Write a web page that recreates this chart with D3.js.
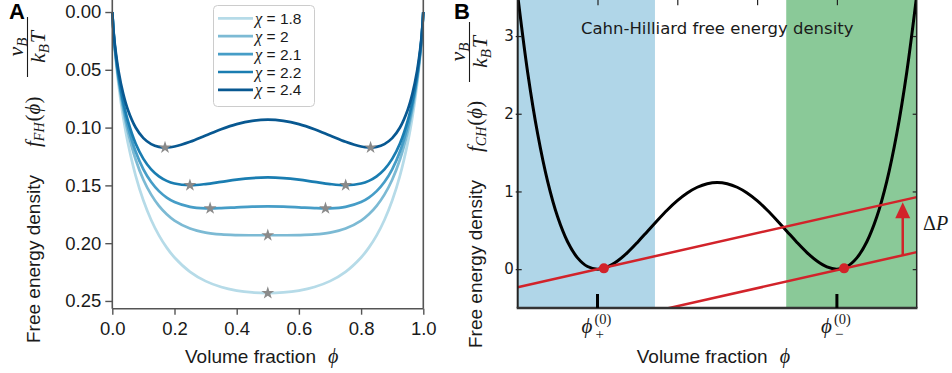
<!DOCTYPE html>
<html><head><meta charset="utf-8">
<script src="https://cdn.jsdelivr.net/npm/d3@7"></script>
<style>body{margin:0;background:#fff} svg{display:block}</style>
</head><body>
<svg id="c" width="952" height="373"></svg>
<script>
// ---------------- data: panel A (Flory-Huggins), values shown as -f ----------------
const phiA = [0,0.005,0.01,0.02,0.035,0.05,0.075,0.1,0.125,0.15,0.175,0.2,0.25,0.3,0.35,0.4,0.45,0.5,0.55,0.6,0.65,0.7,0.75,0.8,0.825,0.85,0.875,0.9,0.925,0.95,0.965,0.98,0.99,0.995,1];
const chiLabels = ["1.8","2","2.1","2.2","2.4"];
const chi18 = [0,0.02253,0.03818,0.06276,0.09092,0.11302,0.14151,0.16308,0.17990,0.19321,0.20385,0.21240,0.22483,0.23286,0.23795,0.24101,0.24264,0.24315,0.24264,0.24101,0.23795,0.23286,0.22483,0.21240,0.20385,0.19321,0.17990,0.16308,0.14151,0.11302,0.09092,0.06276,0.03818,0.02253,0];
const chi20 = [0,0.02153,0.03620,0.05884,0.08416,0.10352,0.12764,0.14508,0.15802,0.16771,0.17498,0.18040,0.18733,0.19086,0.19245,0.19301,0.19314,0.19315,0.19314,0.19301,0.19245,0.19086,0.18733,0.18040,0.17498,0.16771,0.15802,0.14508,0.12764,0.10352,0.08416,0.05884,0.03620,0.02153,0];
const chi21 = [0,0.02103,0.03521,0.05688,0.08078,0.09877,0.12070,0.13608,0.14708,0.15496,0.16054,0.16440,0.16858,0.16986,0.16970,0.16901,0.16839,0.16815,0.16839,0.16901,0.16970,0.16986,0.16858,0.16440,0.16054,0.15496,0.14708,0.13608,0.12070,0.09877,0.08078,0.05688,0.03521,0.02103,0];
const chi22 = [0,0.02054,0.03422,0.05492,0.07741,0.09402,0.11377,0.12708,0.13615,0.14221,0.14610,0.14840,0.14983,0.14886,0.14695,0.14501,0.14364,0.14315,0.14364,0.14501,0.14695,0.14886,0.14983,0.14840,0.14610,0.14221,0.13615,0.12708,0.11377,0.09402,0.07741,0.05492,0.03422,0.02054,0];
const chi24 = [0,0.01954,0.03224,0.05100,0.07065,0.08452,0.09989,0.10908,0.11427,0.11671,0.11723,0.11640,0.11233,0.10686,0.10145,0.09701,0.09414,0.09315,0.09414,0.09701,0.10145,0.10686,0.11233,0.11640,0.11723,0.11671,0.11427,0.10908,0.09989,0.08452,0.07065,0.05100,0.03224,0.01954,0];
const starPhi = [[0.5],[0.5],[0.3145,0.6855],[0.2496,0.7504],[0.1695,0.8305]];
const starVal = [0.24315,0.19315,0.16986,0.14983,0.11724];
const yTicksA = [0,0.05,0.10,0.15,0.20,0.25];
const xTicksA = [0,0.2,0.4,0.6,0.8,1.0];

// ---------------- data: panel B (Cahn-Hilliard) ----------------
const phiB = [0,0.025,0.05,0.075,0.1,0.125,0.15,0.175,0.2,0.225,0.25,0.275,0.3,0.325,0.35,0.375,0.4,0.425,0.45,0.475,0.5,0.525,0.55,0.575,0.6,0.625,0.65,0.675,0.7,0.725,0.75,0.775,0.8,0.825,0.85,0.875,0.9,0.925,0.95,0.975,1];
const fCH = [3.524,2.532,1.742,1.130,0.674,0.353,0.145,0.0336,0,0.0284,0.1041,0.2134,0.3441,0.4853,0.6272,0.7615,0.8810,0.9800,1.0539,1.0996,1.115,1.0996,1.0539,0.9800,0.8810,0.7615,0.6272,0.4853,0.3441,0.2134,0.1041,0.0284,0,0.0336,0.145,0.353,0.674,1.130,1.742,2.532,3.524];
const tangentUpper = [[0,-0.232],[1,0.927]];
const tangentLower = [[0,-0.94],[1,0.219]];
const redDots = [[0.216,0.01],[0.818,0.01]];
const arrowPhi = 0.965, arrowFrom = 0.178, arrowTo = 0.862;
const blueRegion = [0,0.344], greenRegion = [0.673,1];
const yTicksB = [0,1,2,3];
const topTicksB = [0.2,0.4,0.6,0.8];
const phiMarks = [{v:0.2,s:"+"},{v:0.8,s:"\u2212"}];

// ---------------- drawing ----------------
const svg = d3.select("#c");
const SANS = "'Liberation Sans', Arial, Helvetica, sans-serif";
const SERIF = "'Liberation Serif','DejaVu Serif',serif";
const DJV = "'DejaVu Sans', sans-serif";
const TXT = "#1a1a1a";

const colorsA = ["#b6dbe8","#7cbad4","#469dc7","#1a7db1","#085891"];
const seriesA = [chi18,chi20,chi21,chi22,chi24];

const xA = d3.scaleLinear().domain([0,1]).range([112.3,423.3]);
const yA = d3.scaleLinear().domain([-0.0104,0.2567]).range([0,308.7]);

const gA = svg.append("g");
const lineA = d3.line().x((d,i)=>xA(phiA[i])).y(d=>yA(d)).curve(d3.curveCatmullRom.alpha(0.5));
seriesA.forEach((s,k)=>{
  gA.append("path").attr("d",lineA(s)).attr("fill","none")
    .attr("stroke",colorsA[k]).attr("stroke-width",2.7);
});
const star = d3.symbol().type(d3.symbolStar).size(52);
starPhi.forEach((arr,k)=>{
  arr.forEach(p=>{
    gA.append("path").attr("d",star()).attr("transform",`translate(${xA(p)},${yA(starVal[k])})`)
      .attr("fill","#8a8a8a");
  });
});

// frame A
const fr = gA.append("g").attr("stroke","#555").attr("stroke-width",1.6).attr("fill","none");
fr.append("line").attr("x1",xA(0)).attr("x2",xA(0)).attr("y1",yA(-0.0104)).attr("y2",yA(0.2567));
fr.append("line").attr("x1",xA(1)).attr("x2",xA(1)).attr("y1",yA(-0.0104)).attr("y2",yA(0.2567));
fr.append("line").attr("x1",xA(0)).attr("x2",xA(1)).attr("y1",yA(0.2567)).attr("y2",yA(0.2567));

const axLA = gA.append("g").attr("transform",`translate(${xA(0)},0)`)
  .call(d3.axisLeft(yA).tickValues(yTicksA).tickFormat(d3.format(".2f")).tickSize(7).tickPadding(4));
const axBA = gA.append("g").attr("transform",`translate(0,${yA(0.2567)})`)
  .call(d3.axisBottom(xA).tickValues(xTicksA).tickFormat(d3.format(".1f")).tickSize(6).tickPadding(7));
[axLA,axBA].forEach(a=>{
  a.select(".domain").remove();
  a.selectAll("line").attr("stroke","#555").attr("stroke-width",1.4);
  a.selectAll("text").style("font-family",SANS).style("font-size","18.5px").attr("fill",TXT);
});

// x label
function xLabel(x){
  const t = svg.append("text").attr("x",x).attr("y",363).style("font-family",SANS).style("font-size","19px").attr("fill",TXT);
  t.append("tspan").text("Volume fraction");
  t.append("tspan").attr("dx",12).style("font-family",SERIF).style("font-style","italic").style("font-size","20px").text("\u03D5");
}
xLabel(185);

// y label with math
function yLabel(tx,ty,sub){
  const g = svg.append("g").attr("transform",`translate(${tx},${ty}) rotate(-90)`);
  g.append("text").attr("x",0).attr("y",0).style("font-family",SANS).style("font-size","19px").attr("fill",TXT).text("Free energy density");
  const m = g.append("text").attr("x",196).attr("y",0).style("font-family",SERIF).style("font-size","21px").attr("fill",TXT);
  m.append("tspan").style("font-style","italic").text("f");
  m.append("tspan").attr("dy",4).style("font-size","14px").style("font-style","italic").text(sub);
  m.append("tspan").attr("dy",-4).attr("dx",1).text("(");
  m.append("tspan").style("font-style","italic").text("\u03D5");
  m.append("tspan").text(")");
  const cx = 296;
  const n = g.append("text").attr("x",cx).attr("y",-17).attr("text-anchor","middle").style("font-family",SERIF).style("font-size","22px").style("font-style","italic").attr("fill",TXT);
  n.append("tspan").text("\u03BD");
  n.append("tspan").attr("dy",4).style("font-size","15px").text("B");
  g.append("line").attr("x1",cx-30).attr("x2",cx+30).attr("y1",-12.5).attr("y2",-12.5).attr("stroke",TXT).attr("stroke-width",1.1);
  const d = g.append("text").attr("x",cx).attr("y",5).attr("text-anchor","middle").style("font-family",SERIF).style("font-size","22px").style("font-style","italic").attr("fill",TXT);
  d.append("tspan").text("k");
  d.append("tspan").attr("dy",4).style("font-size","15px").text("B");
  d.append("tspan").attr("dy",-4).attr("dx",1).text("T");
}
yLabel(40,343,"FH");

// legend A
const lg = svg.append("g");
lg.append("rect").attr("x",213.5).attr("y",5.5).attr("width",101).attr("height",101).attr("rx",4)
  .attr("fill","#fff").attr("stroke","#cccccc").attr("stroke-width",1);
chiLabels.forEach((c,k)=>{
  const y = 18.3 + 17.9*k;
  lg.append("line").attr("x1",218).attr("x2",253).attr("y1",y).attr("y2",y).attr("stroke",colorsA[k]).attr("stroke-width",2.7);
  const t = lg.append("text").attr("x",255).attr("y",y+5.5).style("font-family",SANS).style("font-size","15.5px").attr("fill",TXT);
  t.append("tspan").style("font-family",SERIF).style("font-style","italic").style("font-size","16.5px").text("\u03C7");
  t.append("tspan").text(" = "+c);
});

// panel letters
svg.append("text").attr("x",9).attr("y",19).style("font-family",SANS).style("font-weight","bold").style("font-size","22px").attr("fill","#000").text("A");
svg.append("text").attr("x",454).attr("y",19).style("font-family",SANS).style("font-weight","bold").style("font-size","22px").attr("fill","#000").text("B");

// ---------------- Panel B ----------------
const xB = d3.scaleLinear().domain([0,1]).range([517.7,916.7]);
const yB = d3.scaleLinear().domain([-0.5,3.5]).range([308,-2.8]);
const gB = svg.append("g");
svg.append("defs").append("clipPath").attr("id","clipB").append("rect")
  .attr("x",xB(0)).attr("y",yB(3.5)).attr("width",xB(1)-xB(0)).attr("height",yB(-0.5)-yB(3.5));

gB.append("rect").attr("x",xB(blueRegion[0])).attr("width",xB(blueRegion[1])-xB(blueRegion[0]))
  .attr("y",yB(3.5)).attr("height",yB(-0.5)-yB(3.5)).attr("fill","#b0d6e8");
gB.append("rect").attr("x",xB(greenRegion[0])).attr("width",xB(greenRegion[1])-xB(greenRegion[0]))
  .attr("y",yB(3.5)).attr("height",yB(-0.5)-yB(3.5)).attr("fill","#8ac998");

const inner = gB.append("g").attr("clip-path","url(#clipB)");
const lineB = d3.line().x((d,i)=>xB(phiB[i])).y(d=>yB(d)).curve(d3.curveCatmullRom.alpha(0.5));
inner.append("path").attr("d",lineB(fCH)).attr("fill","none").attr("stroke","#000").attr("stroke-width",3);
const RED = "#d2232a";
const lineP = d3.line().x(d=>xB(d[0])).y(d=>yB(d[1]));
[tangentUpper,tangentLower].forEach(t=>{
  inner.append("path").attr("d",lineP(t)).attr("fill","none").attr("stroke",RED).attr("stroke-width",2.5);
});
redDots.forEach(d=>{
  inner.append("circle").attr("cx",xB(d[0])).attr("cy",yB(d[1])).attr("r",5).attr("fill",RED);
});
// Delta P arrow
const ax = xB(arrowPhi), aTop = yB(arrowTo);
inner.append("line").attr("x1",ax).attr("x2",ax).attr("y1",yB(arrowFrom)).attr("y2",aTop+12).attr("stroke",RED).attr("stroke-width",2.5);
inner.append("path").attr("d",`M${ax},${aTop} L${ax-7.5},${aTop+16} L${ax+7.5},${aTop+16} Z`).attr("fill",RED);

// title
svg.append("text").attr("x",xB(0.5)).attr("y",34).attr("text-anchor","middle").style("font-family",DJV).style("font-size","16.5px").attr("fill",TXT)
  .text("Cahn-Hilliard free energy density");

// spines B
gB.append("line").attr("x1",xB(0)).attr("x2",xB(0)).attr("y1",yB(3.5)).attr("y2",yB(-0.5)).attr("stroke","#222").attr("stroke-width",2);
gB.append("line").attr("x1",xB(1)).attr("x2",xB(1)).attr("y1",yB(3.5)).attr("y2",yB(-0.5)).attr("stroke","#222").attr("stroke-width",1.5);
gB.append("line").attr("x1",xB(0)-1).attr("x2",xB(1)+0.75).attr("y1",yB(-0.5)).attr("y2",yB(-0.5)).attr("stroke","#333").attr("stroke-width",2.6);

// left ticks B (crossing spine)
const axLB = gB.append("g").attr("transform",`translate(${xB(0)},0)`)
  .call(d3.axisLeft(yB).tickValues(yTicksB).tickFormat(d3.format("d")).tickSize(2).tickPadding(2));
axLB.select(".domain").remove();
axLB.selectAll("line").attr("x2",4).attr("x1",-2).attr("stroke","#222").attr("stroke-width",1.2);
axLB.selectAll("text").style("font-family",DJV).style("font-size","15px").attr("fill",TXT);
// right ticks B (inward)
const axRB = gB.append("g").attr("transform",`translate(${xB(1)},0)`)
  .call(d3.axisRight(yB).tickValues(yTicksB).tickFormat("").tickSize(-4));
axRB.select(".domain").remove();
axRB.selectAll("line").attr("stroke","#222").attr("stroke-width",1.2);
// top ticks B (inward)
const axTB = gB.append("g").attr("transform",`translate(0,${yB(3.5)})`)
  .call(d3.axisTop(xB).tickValues(topTicksB).tickFormat("").tickSize(-8));
axTB.select(".domain").remove();
axTB.selectAll("line").attr("stroke","#222").attr("stroke-width",1.2);
// bottom phi marks
phiMarks.forEach(m=>{
  const x = xB(m.v);
  gB.append("line").attr("x1",x).attr("x2",x).attr("y1",yB(-0.5)).attr("y2",yB(-0.5)-14).attr("stroke","#000").attr("stroke-width",3);
  gB.append("text").attr("x",x-16).attr("y",333).style("font-family",SERIF).style("font-style","italic").style("font-size","21px").attr("fill",TXT).text("\u03D5");
  gB.append("text").attr("x",x-3).attr("y",324).style("font-family",SERIF).style("font-size","14.5px").attr("fill",TXT).text("(0)");
  gB.append("text").attr("x",x-2).attr("y",338.5).style("font-family",SERIF).style("font-size","15px").attr("fill",TXT).text(m.s);
});
// Delta P label
const dp = svg.append("text").attr("x",923).attr("y",230).style("font-family",SERIF).style("font-size","20px").attr("fill",TXT);
dp.append("tspan").text("\u0394");
dp.append("tspan").style("font-style","italic").text("P");

xLabel(636.7);
yLabel(482,348,"CH");
</script>
</body></html>
